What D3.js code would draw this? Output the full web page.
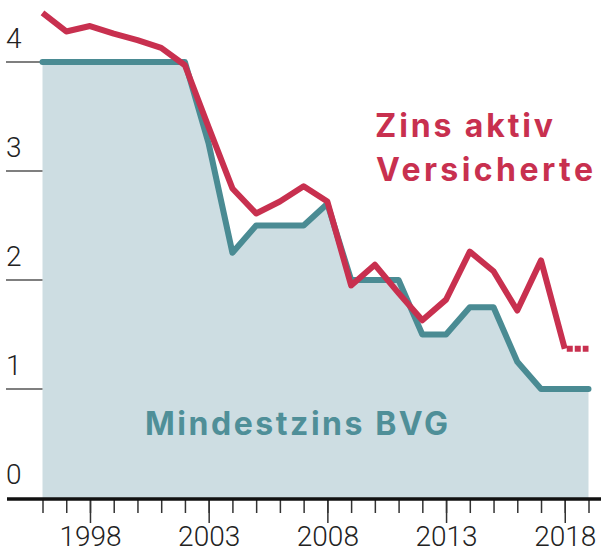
<!DOCTYPE html>
<html>
<head>
    <meta charset="utf-8">
    <title>Mindestzins BVG</title>
    <style type="text/css">
        body { margin: 0; background: #fff; }
        svg { display: block; }
    </style>
</head>
<body>
    <svg class="chart"></svg>
    <script src="https://cdn.jsdelivr.net/npm/d3@7"></script>
    <script type="text/javascript">
        // Daten
        var years = d3.range(1996, 2020);
        // BVG-Mindestzins in %
        var mindestzins = [4, 4, 4, 4, 4, 4, 4, 3.25, 2.25, 2.5, 2.5, 2.5, 2.7,
                           2, 2, 2, 1.5, 1.5, 1.75, 1.75, 1.25, 1, 1, 1];
        // Verzinsung aktiv Versicherte in % (bis 2018, 2019 noch offen)
        var zinsAktiv = [4.45, 4.28, 4.33, 4.26, 4.2, 4.13, 3.97, 3.4, 2.84, 2.61, 2.72, 2.86, 2.72,
                         1.95, 2.14, 1.88, 1.63, 1.82, 2.26, 2.08, 1.72, 2.18, 1.37];
        var yTicks = [0, 1, 2, 3, 4];
        var yearLabels = [1998, 2003, 2008, 2013, 2018];

        var width = 601, height = 554;
        var red = "#c8304f", teal = "#4a8b93", fillC = "#cddde2";

        var svg = d3.select("svg.chart")
            .attr("width", width)
            .attr("height", height)
            .style("font-family", "Roboto, 'Liberation Sans', sans-serif");

        var x = d3.scaleLinear().domain([1996, 2019]).range([42.5, 588.5]);
        var y = d3.scaleLinear().domain([0, 4]).range([498, 62]);

        var bvg = years.map((yr, i) => ({year: yr, v: mindestzins[i]}));
        var aktiv = zinsAktiv.map((v, i) => ({year: years[i], v: v}));

        // Fläche unter dem Mindestzins
        svg.append("path")
            .datum(bvg)
            .attr("fill", fillC)
            .attr("d", d3.area().x(d => x(d.year)).y0(y(0)).y1(d => y(d.v)));

        // y-Achse: kurze Linien links
        var yg = svg.append("g");
        yg.selectAll("line")
            .data(yTicks.filter(d => d > 0))
            .join("line")
                .attr("x1", 6)
                .attr("x2", x(1996))
                .attr("y1", d => y(d))
                .attr("y2", d => y(d))
                .attr("stroke", "#555")
                .attr("stroke-width", 1.5);
        yg.selectAll("text")
            .data(yTicks)
            .join("text")
                .attr("x", 6)
                .attr("y", d => y(d) - 14)
                .attr("fill", "#222")
                .style("font-size", "28px")
                .style("font-weight", 300)
                .text(d => d);

        // x-Achse
        var minor = d3.axisBottom(x)
            .tickValues(years)
            .tickSize(14)
            .tickFormat("");
        var major = d3.axisBottom(x)
            .tickValues(yearLabels)
            .tickSize(24)
            .tickPadding(3)
            .tickFormat(d3.format("d"));

        var xg1 = svg.append("g").attr("transform", `translate(0,${y(0) + 1})`).call(minor);
        var xg2 = svg.append("g").attr("transform", `translate(0,${y(0) + 1})`).call(major);
        [xg1, xg2].forEach(function(g) {
            g.select(".domain").remove();
            g.selectAll(".tick line").attr("stroke", "#333").attr("stroke-width", 1.5);
        });
        xg2.selectAll(".tick text")
            .attr("fill", "#222")
            .style("font-size", "28px")
            .style("font-weight", 300)
            .style("font-family", "Roboto, 'Liberation Sans', sans-serif");

        svg.append("line")
            .attr("x1", 7)
            .attr("x2", width)
            .attr("y1", y(0) + 1)
            .attr("y2", y(0) + 1)
            .attr("stroke", "#111")
            .attr("stroke-width", 3.5);

        // Linien
        var line = d3.line().x(d => x(d.year)).y(d => y(d.v));

        svg.append("path")
            .datum(bvg)
            .attr("fill", "none")
            .attr("stroke", teal)
            .attr("stroke-width", 6)
            .attr("stroke-linejoin", "round")
            .attr("stroke-linecap", "round")
            .attr("d", line);

        svg.append("path")
            .datum(aktiv)
            .attr("fill", "none")
            .attr("stroke", red)
            .attr("stroke-width", 6)
            .attr("stroke-linejoin", "round")
            .attr("stroke-linecap", "butt")
            .attr("d", line);

        // offener Wert 2019 gepunktet
        var last = aktiv[aktiv.length - 1];
        svg.append("path")
            .datum([last, {year: 2019, v: last.v}])
            .attr("fill", "none")
            .attr("stroke", red)
            .attr("stroke-width", 6)
            .attr("stroke-dasharray", "0,2,6,2,6,2,6")
            .attr("d", line);

        // Beschriftungen
        var lab = svg.append("g")
            .style("font-family", "Inter, Roboto, sans-serif")
            .style("font-weight", 700)
            .style("font-size", "32px");

        lab.append("text")
            .attr("x", 375)
            .attr("y", 137)
            .attr("fill", red)
            .attr("textLength", 178)
            .attr("lengthAdjust", "spacing")
            .text("Zins aktiv");
        lab.append("text")
            .attr("x", 376)
            .attr("y", 181)
            .attr("fill", red)
            .attr("textLength", 217)
            .attr("lengthAdjust", "spacing")
            .text("Versicherte");
        lab.append("text")
            .attr("x", 145)
            .attr("y", 435)
            .attr("fill", "#4f8f98")
            .attr("textLength", 303)
            .attr("lengthAdjust", "spacing")
            .text("Mindestzins BVG");
    </script>
</body>
</html>
